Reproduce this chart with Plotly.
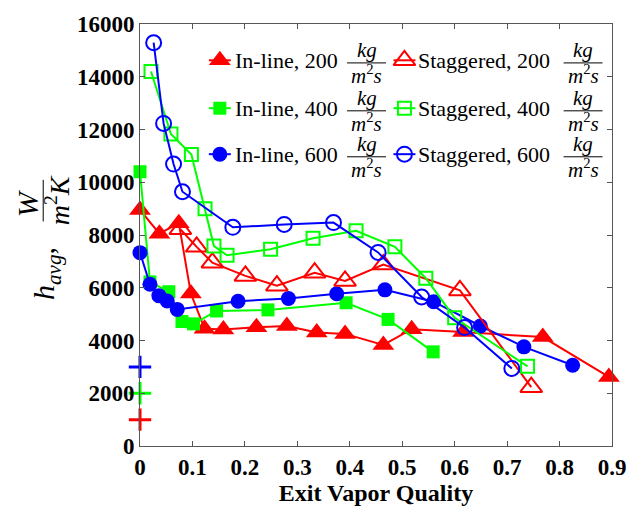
import plotly.graph_objects as go

# Average heat transfer coefficient vs. exit vapor quality
inline200_x = [0.0, 0.037, 0.074, 0.097, 0.123, 0.159, 0.222, 0.28, 0.337, 0.391, 0.464, 0.518, 0.616, 0.768, 0.894]
inline200_y = [8950, 8050, 8450, 5780, 4450, 4420, 4500, 4550, 4300, 4250, 3830, 4430, 4320, 4130, 2620]

inline400_x = [0.0, 0.019, 0.055, 0.08, 0.102, 0.146, 0.244, 0.393, 0.473, 0.559]
inline400_y = [10400, 6220, 5850, 4720, 4630, 5120, 5160, 5430, 4800, 3570]

inline600_x = [0.0, 0.019, 0.036, 0.052, 0.071, 0.187, 0.283, 0.375, 0.467, 0.56, 0.649, 0.732, 0.825]
inline600_y = [7330, 6130, 5700, 5500, 5180, 5490, 5590, 5770, 5920, 5470, 4550, 3760, 3060]

stag200_x = [0.077, 0.108, 0.138, 0.201, 0.261, 0.333, 0.391, 0.464, 0.61, 0.746]
stag200_y = [8220, 7550, 6950, 6450, 6080, 6570, 6260, 6880, 5900, 2230]

stag400_x = [0.021, 0.059, 0.098, 0.124, 0.141, 0.166, 0.249, 0.33, 0.412, 0.486, 0.545, 0.6, 0.739]
stag400_y = [14200, 11830, 11050, 9000, 7580, 7230, 7460, 7880, 8160, 7550, 6360, 4860, 3020]

stag600_x = [0.026, 0.045, 0.064, 0.081, 0.177, 0.275, 0.369, 0.454, 0.537, 0.619, 0.709]
stag600_y = [15290, 12230, 10690, 9640, 8290, 8400, 8470, 7340, 5650, 4490, 2940]

# reference crosses on the y axis
cross_levels = [1000, 2000, 3000]

x_ticks = [0, 0.1, 0.2, 0.3, 0.4, 0.5, 0.6, 0.7, 0.8, 0.9]
x_tick_labels = ["0", "0.1", "0.2", "0.3", "0.4", "0.5", "0.6", "0.7", "0.8", "0.9"]
y_ticks = [0, 2000, 4000, 6000, 8000, 10000, 12000, 14000, 16000]
y_tick_labels = ["0", "2000", "4000", "6000", "8000", "10000", "12000", "14000", "16000"]

RED, GREEN, BLUE = "#ff0000", "#00ff00", "#0000ff"
SERIF = "'Liberation Serif', 'Times New Roman', Times, serif"

W, H = 638, 508
L, R, T, B = 140, 25, 19, 53
PW, PH = W - L - R, H - T - B


def px(xp):
    return (xp - L) / PW


def py(yp):
    return (H - B - yp) / PH


series = [
    (inline200_x, inline200_y, RED, "triangle-up", 19, "In-line, 200"),
    (inline400_x, inline400_y, GREEN, "square", 13, "In-line, 400"),
    (inline600_x, inline600_y, BLUE, "circle", 15, "In-line, 600"),
    (stag200_x, stag200_y, RED, "triangle-up-open", 19, "Staggered, 200"),
    (stag400_x, stag400_y, GREEN, "square-open", 13, "Staggered, 400"),
    (stag600_x, stag600_y, BLUE, "circle-open", 15, "Staggered, 600"),
]

fig = go.Figure()

for xs, ys, color, symbol, size, _ in series:
    fig.add_trace(go.Scatter(
        x=xs, y=ys, mode="lines+markers", cliponaxis=False, showlegend=False,
        line=dict(color=color, width=2),
        marker=dict(symbol=symbol, size=size, color=color,
                    line=dict(color=color, width=2 if symbol.endswith("open") else 0)),
    ))

for level, color in zip(cross_levels, [RED, GREEN, BLUE]):
    fig.add_trace(go.Scatter(
        x=[0], y=[level], mode="markers", cliponaxis=False, showlegend=False,
        marker=dict(symbol="cross-thin", size=16, color=color, line=dict(color=color, width=3)),
    ))

# hand-built legend: 3 rows x 2 columns, keys on an overlay axis in plot fractions
row_y = [56.5, 106, 153.5]
col_key = [220, 405]
col_text = [233, 417]
col_frac = [367, 584]
annotations = []
shapes = []
for i, (_, _, color, symbol, size, label) in enumerate(series):
    col, row = divmod(i, 3)
    yc = row_y[row]
    kx = col_key[col]
    fig.add_trace(go.Scatter(
        x=[px(kx - 11), px(kx + 11)], y=[py(yc), py(yc)], mode="lines",
        xaxis="x2", yaxis="y2", showlegend=False, line=dict(color=color, width=2),
    ))
    fig.add_trace(go.Scatter(
        x=[px(kx)], y=[py(yc)], mode="markers", xaxis="x2", yaxis="y2", showlegend=False,
        marker=dict(symbol=symbol, size=size, color=color,
                    line=dict(color=color, width=2 if symbol.endswith("open") else 0)),
    ))
    annotations.append(dict(
        x=px(col_text[col]), y=py(yc), xref="paper", yref="paper", text=label,
        showarrow=False, xanchor="left", yanchor="middle",
        font=dict(family=SERIF, size=22, color="black"),
    ))
    fx = col_frac[col]
    annotations.append(dict(
        x=px(fx), y=py(yc - 11), xref="paper", yref="paper", text="<i>kg</i>",
        showarrow=False, xanchor="center", yanchor="middle",
        font=dict(family=SERIF, size=21, color="black"),
    ))
    annotations.append(dict(
        x=px(fx), y=py(yc + 15), xref="paper", yref="paper", text="<i>m</i><sup>2</sup><i>s</i>",
        showarrow=False, xanchor="center", yanchor="middle",
        font=dict(family=SERIF, size=21, color="black"),
    ))
    shapes.append(dict(
        type="line", xref="paper", yref="paper",
        x0=px(fx - 19.5), x1=px(fx + 19.5), y0=py(yc + 2.7), y1=py(yc + 2.7),
        line=dict(color="black", width=1),
    ))

# y-axis title: h_avg, W / (m^2 K), rotated
annotations.append(dict(
    x=px(46), y=py(277), xref="paper", yref="paper", textangle=-90,
    text="<i>h</i><sub><i>avg</i></sub>,", showarrow=False,
    xanchor="center", yanchor="middle", font=dict(family=SERIF, size=30, color="black"),
))
annotations.append(dict(
    x=px(27), y=py(204), xref="paper", yref="paper", textangle=-90,
    text="<i>W</i>", showarrow=False,
    xanchor="center", yanchor="middle", font=dict(family=SERIF, size=30, color="black"),
))
annotations.append(dict(
    x=px(57), y=py(201), xref="paper", yref="paper", textangle=-90,
    text="<i>m</i><sup>2</sup><i>K</i>", showarrow=False,
    xanchor="center", yanchor="middle", font=dict(family=SERIF, size=28, color="black"),
))
shapes.append(dict(
    type="line", xref="paper", yref="paper",
    x0=px(43), x1=px(43), y0=py(180), y1=py(223),
    line=dict(color="black", width=1),
))

axis_common = dict(
    showline=True, linecolor="#555555", linewidth=1, mirror="ticks",
    ticks="inside", ticklen=5, tickcolor="#555555", tickwidth=1,
    showgrid=False, zeroline=False,
    tickfont=dict(family=SERIF, size=23, color="black", weight="bold"),
)

fig.update_layout(
    width=W, height=H,
    margin=dict(l=L, r=R, t=T, b=B),
    paper_bgcolor="white", plot_bgcolor="white",
    showlegend=False,
    xaxis=dict(range=[0, 0.9], tickvals=x_ticks, ticktext=x_tick_labels,
               title=dict(text="Exit Vapor Quality", standoff=0,
                          font=dict(family=SERIF, size=24, color="black", weight="bold")),
               **axis_common),
    yaxis=dict(range=[0, 16000], tickvals=y_ticks, ticktext=y_tick_labels, **axis_common),
    xaxis2=dict(range=[0, 1], overlaying="x", visible=False),
    yaxis2=dict(range=[0, 1], overlaying="y", visible=False),
    annotations=annotations,
    shapes=shapes,
)

fig.write_html("out.html")
